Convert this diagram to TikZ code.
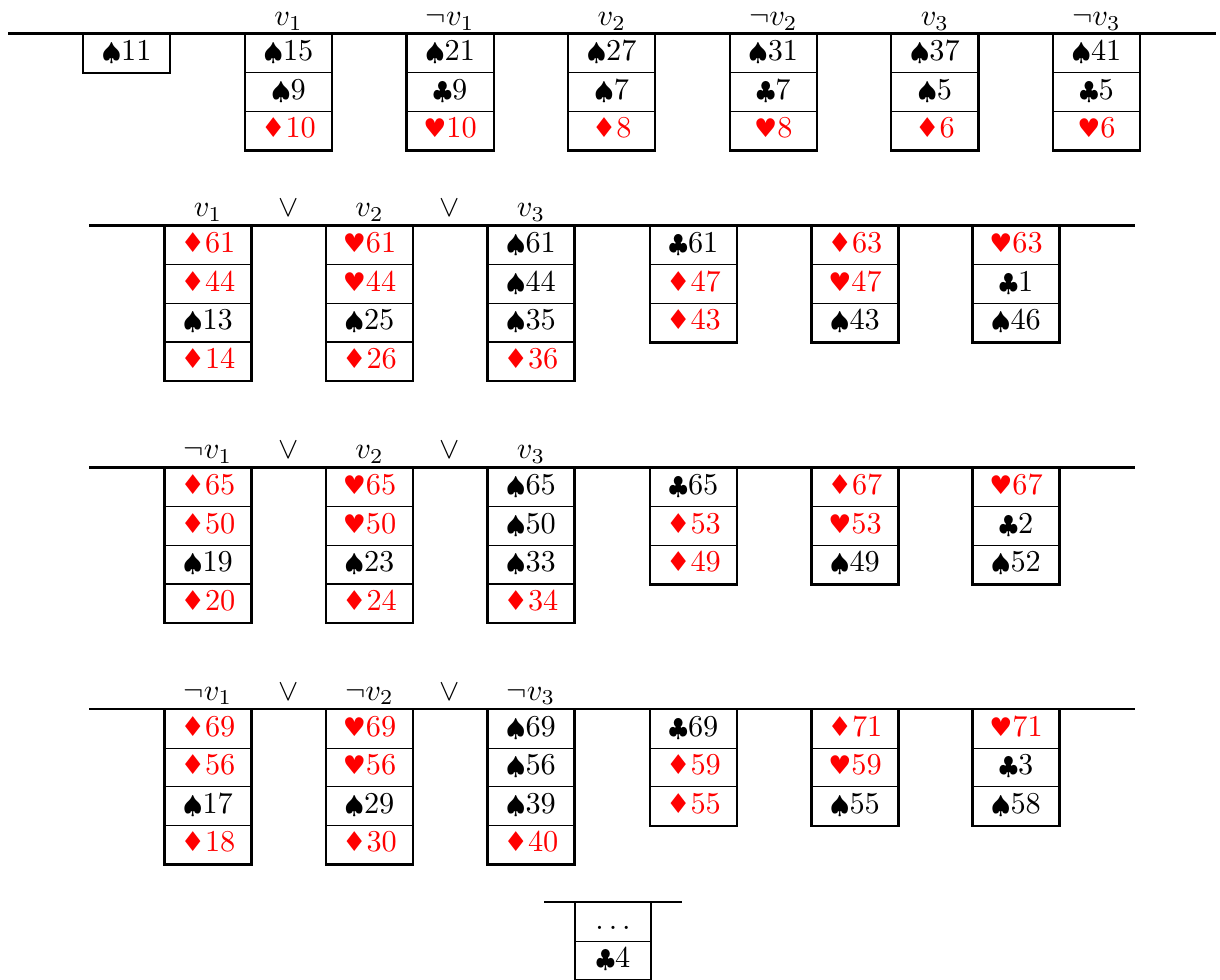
\documentclass[tikz,border=0pt]{standalone}
\usepackage{fontspec}
\usepackage{graphicx}
\newfontfamily\dejavu{DejaVu Sans}
\newcommand\suitS{\scalebox{0.82}{$\spadesuit$}}
\newcommand\suitC{\scalebox{0.82}{$\clubsuit$}}
\newcommand\suitH{\scalebox{0.85}{\dejavu ♥}}
\newcommand\suitD{\scalebox{0.9}{\dejavu ♦}}
\newcommand\rd[1]{\textcolor{red}{#1}}
\tikzset{
  cell/.style={draw, line width=0.4pt, minimum width=28.4pt, minimum height=12.74pt,
    inner sep=0pt, anchor=north, text height=6.8pt, text depth=2pt},
  side/.style={line width=0.75pt},
  rule/.style={line width=0.8pt},
  lab/.style={anchor=base, inner sep=0pt}
}
% name, x, ytop, n, list
\newcommand\cardcol[5]{%
  \foreach \c [count=\i] in {#5} {
    \node[cell] (#1-\i) at (#2, {#3+(\i-1)*38.6}) {\c};
  }
  \draw[side] (#1-1.north west) -- (#1-#4.south west) -- (#1-#4.south east) -- (#1-1.north east);
}
\begin{document}
\begin{tikzpicture}[x=0.33pt, y=-0.33pt]
\useasboundingbox (0,0) rectangle (1220,980);

% ---------- row 1 ----------
\coordinate (r1l) at (8,33.5);
\coordinate (r1r) at (1216,33.5);
\draw[rule] (r1l) -- (r1r);
\node[lab] (t1) at (288.5,25.5) {$v_1$};
\node[lab] (t2) at (450.1,25.5) {$\neg v_1$};
\node[lab] (t3) at (611.7,25.5) {$v_2$};
\node[lab] (t4) at (773.3,25.5) {$\neg v_2$};
\node[lab] (t5) at (934.9,25.5) {$v_3$};
\node[lab] (t6) at (1096.5,25.5) {$\neg v_3$};
\cardcol{a0}{126.7}{33.5}{1}{{\suitS 11}}
\cardcol{a1}{288.5}{33.5}{3}{{\suitS 15},{\suitS 9},{\rd{\suitD 10}}}
\cardcol{a2}{450.1}{33.5}{3}{{\suitS 21},{\suitC 9},{\rd{\suitH 10}}}
\cardcol{a3}{611.7}{33.5}{3}{{\suitS 27},{\suitS 7},{\rd{\suitD 8}}}
\cardcol{a4}{773.3}{33.5}{3}{{\suitS 31},{\suitC 7},{\rd{\suitH 8}}}
\cardcol{a5}{934.9}{33.5}{3}{{\suitS 37},{\suitS 5},{\rd{\suitD 6}}}
\cardcol{a6}{1096.5}{33.5}{3}{{\suitS 41},{\suitC 5},{\rd{\suitH 6}}}

% ---------- row 2 ----------
\coordinate (r2l) at (89,225.5);
\coordinate (r2r) at (1135,225.5);
\draw[rule] (r2l) -- (r2r);
\node[lab] (b1) at (208,216.7) {$v_1$};
\node[lab] (b2) at (288.5,216.7) {$\vee$};
\node[lab] (b3) at (369.5,216.7) {$v_2$};
\node[lab] (b4) at (449.5,216.7) {$\vee$};
\node[lab] (b5) at (531,216.7) {$v_3$};
\cardcol{b1c}{208}{225.5}{4}{{\rd{\suitD 61}},{\rd{\suitD 44}},{\suitS 13},{\rd{\suitD 14}}}
\cardcol{b2c}{369.5}{225.5}{4}{{\rd{\suitH 61}},{\rd{\suitH 44}},{\suitS 25},{\rd{\suitD 26}}}
\cardcol{b3c}{531}{225.5}{4}{{\suitS 61},{\suitS 44},{\suitS 35},{\rd{\suitD 36}}}
\cardcol{b4c}{693.5}{225.5}{3}{{\suitC 61},{\rd{\suitD 47}},{\rd{\suitD 43}}}
\cardcol{b5c}{855}{225.5}{3}{{\rd{\suitD 63}},{\rd{\suitH 47}},{\suitS 43}}
\cardcol{b6c}{1016}{225.5}{3}{{\rd{\suitH 63}},{\suitC 1},{\suitS 46}}

% ---------- row 3 ----------
\coordinate (r3l) at (89,467.5);
\coordinate (r3r) at (1135,467.5);
\draw[rule] (r3l) -- (r3r);
\node[lab] (c1) at (208,458.7) {$\neg v_1$};
\node[lab] (c2) at (288.5,458.7) {$\vee$};
\node[lab] (c3) at (369.5,458.7) {$v_2$};
\node[lab] (c4) at (449.5,458.7) {$\vee$};
\node[lab] (c5) at (531,458.7) {$v_3$};
\cardcol{c1c}{208}{467.5}{4}{{\rd{\suitD 65}},{\rd{\suitD 50}},{\suitS 19},{\rd{\suitD 20}}}
\cardcol{c2c}{369.5}{467.5}{4}{{\rd{\suitH 65}},{\rd{\suitH 50}},{\suitS 23},{\rd{\suitD 24}}}
\cardcol{c3c}{531}{467.5}{4}{{\suitS 65},{\suitS 50},{\suitS 33},{\rd{\suitD 34}}}
\cardcol{c4c}{693.5}{467.5}{3}{{\suitC 65},{\rd{\suitD 53}},{\rd{\suitD 49}}}
\cardcol{c5c}{855}{467.5}{3}{{\rd{\suitD 67}},{\rd{\suitH 53}},{\suitS 49}}
\cardcol{c6c}{1016}{467.5}{3}{{\rd{\suitH 67}},{\suitC 2},{\suitS 52}}

% ---------- row 4 ----------
\coordinate (r4l) at (89,709);
\coordinate (r4r) at (1135,709);
\draw[rule] (r4l) -- (r4r);
\node[lab] (d1) at (208,700.2) {$\neg v_1$};
\node[lab] (d2) at (288.5,700.2) {$\vee$};
\node[lab] (d3) at (369.5,700.2) {$\neg v_2$};
\node[lab] (d4) at (449.5,700.2) {$\vee$};
\node[lab] (d5) at (531,700.2) {$\neg v_3$};
\cardcol{d1c}{208}{709}{4}{{\rd{\suitD 69}},{\rd{\suitD 56}},{\suitS 17},{\rd{\suitD 18}}}
\cardcol{d2c}{369.5}{709}{4}{{\rd{\suitH 69}},{\rd{\suitH 56}},{\suitS 29},{\rd{\suitD 30}}}
\cardcol{d3c}{531}{709}{4}{{\suitS 69},{\suitS 56},{\suitS 39},{\rd{\suitD 40}}}
\cardcol{d4c}{693.5}{709}{3}{{\suitC 69},{\rd{\suitD 59}},{\rd{\suitD 55}}}
\cardcol{d5c}{855}{709}{3}{{\rd{\suitD 71}},{\rd{\suitH 59}},{\suitS 55}}
\cardcol{d6c}{1016}{709}{3}{{\rd{\suitH 71}},{\suitC 3},{\suitS 58}}

% ---------- bottom ----------
\coordinate (r5l) at (544,902);
\coordinate (r5r) at (682,902);
\draw[rule] (r5l) -- (r5r);
\begin{scope}[cell/.append style={minimum width=24.5pt}]
\cardcol{e1}{613}{902}{2}{{$\ldots$},{\suitC 4}}
\end{scope}
\end{tikzpicture}
\end{document}
